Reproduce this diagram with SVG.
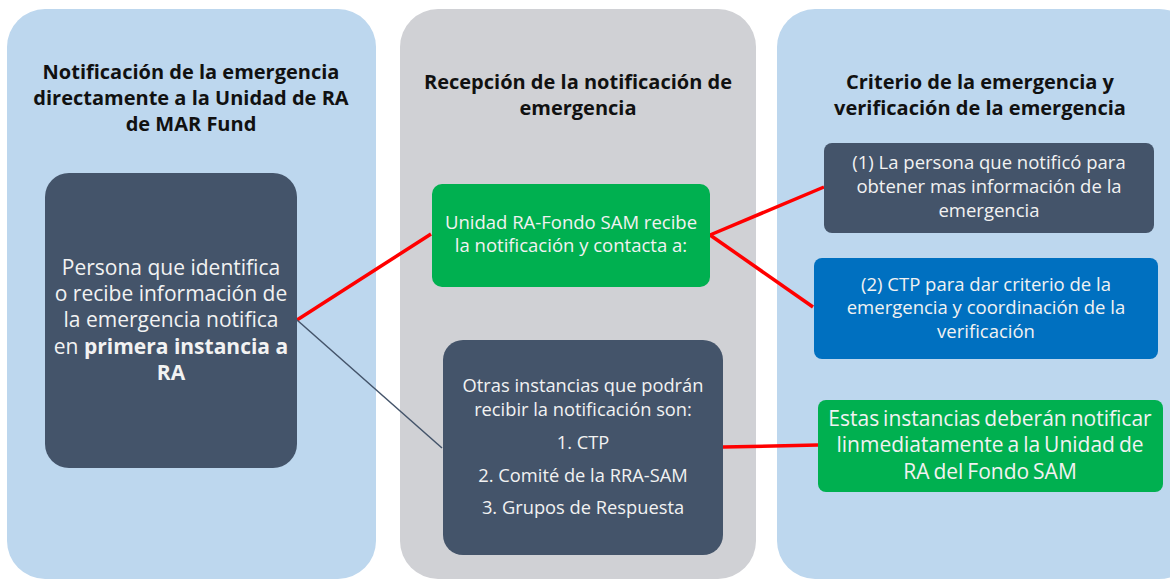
<svg xmlns="http://www.w3.org/2000/svg" width="1170" height="580" viewBox="0 0 1170 580">
<style>
.ttl{font-family:"Open Sans","Liberation Sans",sans-serif;font-weight:bold;font-size:20px;fill:#111;text-anchor:middle}
.wt{font-family:"Open Sans","Liberation Sans",sans-serif;fill:#f2f2f2;text-anchor:middle}
.dark{fill:#44546a}
.red{stroke:#ff0000;stroke-width:3.5;fill:none}
</style>
<rect x="0" y="0" width="1170" height="580" fill="#ffffff"/>
<g id="panels">
<rect x="7" y="9" width="369" height="570" rx="38" fill="#bdd7ee"/>
<rect x="400" y="9" width="356" height="570" rx="38" fill="#d0d1d5"/>
<rect x="777" y="9" width="420" height="570" rx="38" fill="#bdd7ee"/>
<text class="ttl" x="191" y="79">Notificación de la emergencia</text>
<text class="ttl" x="191" y="105">directamente a la Unidad de RA</text>
<text class="ttl" x="191" y="131">de MAR Fund</text>
<text class="ttl" x="578" y="89">Recepción de la notificación de</text>
<text class="ttl" x="578" y="115">emergencia</text>
<text class="ttl" x="980" y="89">Criterio de la emergencia y</text>
<text class="ttl" x="980" y="115">verificación de la emergencia</text>
</g>
<g id="connectors">
<line class="red" x1="297" y1="320" x2="431" y2="234"/>
<line x1="297" y1="320" x2="442" y2="448" stroke="#44546a" stroke-width="1.5"/>
<line class="red" x1="710" y1="235" x2="824" y2="187"/>
<line class="red" x1="710" y1="235" x2="813" y2="307"/>
<line class="red" x1="723" y1="447" x2="818" y2="445"/>
</g>
<g id="node-persona">
<rect class="dark" x="45" y="173" width="252" height="295" rx="24"/>
<text class="wt" font-size="21" x="171" y="275">Persona que identifica</text>
<text class="wt" font-size="21" x="171" y="301">o recibe información de</text>
<text class="wt" font-size="21" x="171" y="327">la emergencia notifica</text>
<text class="wt" font-size="21" x="171" y="354">en <tspan font-weight="bold">primera instancia a</tspan></text>
<text class="wt" font-size="21" x="171" y="380" font-weight="bold">RA</text>
</g>
<g id="node-unidad">
<rect x="432" y="184" width="278" height="103" rx="10" fill="#00b050"/>
<text class="wt" font-size="18.5" x="571" y="229">Unidad RA-Fondo SAM recibe</text>
<text class="wt" font-size="18.5" x="571" y="252">la notificación y contacta a:</text>
</g>
<g id="node-otras">
<rect class="dark" x="443" y="340" width="280" height="215" rx="20"/>
<text class="wt" font-size="18.3" x="583" y="392">Otras instancias que podrán</text>
<text class="wt" font-size="18.3" x="583" y="416">recibir la notificación son:</text>
<text class="wt" font-size="18.3" x="583" y="449">1. CTP</text>
<text class="wt" font-size="18.3" x="583" y="482">2. Comité de la RRA-SAM</text>
<text class="wt" font-size="18.3" x="583" y="514">3. Grupos de Respuesta</text>
</g>
<g id="node-persona-notifico">
<rect class="dark" x="824" y="143" width="330" height="90" rx="8"/>
<text class="wt" font-size="18.5" x="989" y="169">(1) La persona que notificó para</text>
<text class="wt" font-size="18.5" x="989" y="193">obtener mas información de la</text>
<text class="wt" font-size="18.5" x="989" y="217">emergencia</text>
</g>
<g id="node-ctp">
<rect x="814" y="258" width="344" height="101" rx="8" fill="#0070c0"/>
<text class="wt" font-size="18.5" x="986" y="291">(2) CTP para dar criterio de la</text>
<text class="wt" font-size="18.5" x="986" y="314">emergencia y coordinación de la</text>
<text class="wt" font-size="18.5" x="986" y="338">verificación</text>
</g>
<g id="node-estas">
<rect x="818" y="400" width="345" height="92" rx="8" fill="#00b050"/>
<text class="wt" font-size="21" x="990" y="426" word-spacing="-1.5">Estas instancias deberán notificar</text>
<text class="wt" font-size="21" x="990" y="452" word-spacing="-1.5">linmediatamente a la Unidad de</text>
<text class="wt" font-size="21" x="990" y="479" word-spacing="-1.5">RA del Fondo SAM</text>
</g>
</svg>
